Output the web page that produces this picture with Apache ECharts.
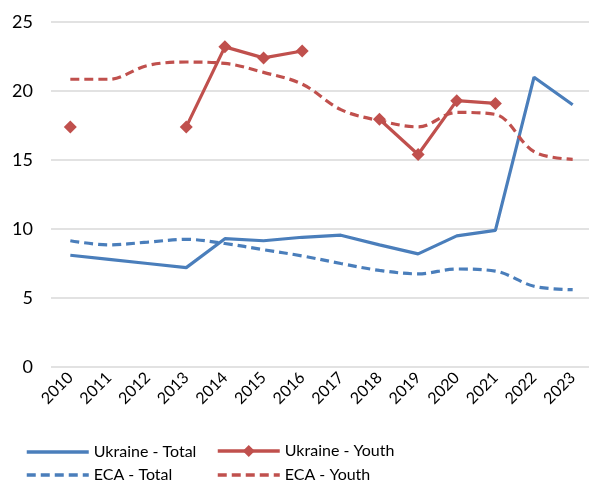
<!DOCTYPE html>
<html>
<head>
<meta charset="utf-8">
<script src="https://cdn.jsdelivr.net/npm/echarts@6/dist/echarts.min.js"></script>
<style>html,body{margin:0;padding:0;background:#fff;overflow:hidden}#c{width:592px;height:483px}</style>
</head>
<body>
<div id="c"></div>
<script>
const years = ['2010','2011','2012','2013','2014','2015','2016','2017','2018','2019','2020','2021','2022','2023'];
const ukraineTotal = [8.1, 7.8, 7.5, 7.2, 9.3, 9.15, 9.4, 9.55, 8.85, 8.2, 9.5, 9.9, 21.0, 19.0];
const ukraineYouth = [17.4, null, null, 17.4, 23.2, 22.4, 22.9, null, 17.95, 15.4, 19.3, 19.1, null, null];
const ecaTotal = [9.15, 8.85, 9.05, 9.25, 8.95, 8.5, 8.05, 7.5, 7.0, 6.75, 7.1, 6.95, 5.85, 5.6];
const ecaYouth = [20.85, 20.85, 21.85, 22.1, 22.0, 21.35, 20.5, 18.65, 17.85, 17.4, 18.45, 18.3, 15.6, 15.05];
const yTicks = [0, 5, 10, 15, 20, 25];

const BLUE = '#4a7ebb';
const RED = '#c0504d';
const FONT = 'Lato';

const chart = echarts.init(document.getElementById('c'), null, {renderer: 'canvas'});
function legendAt(name, left, top, hasSymbol) {
  return {
    data: [name], left: left, top: top, itemWidth: 62, itemHeight: hasSymbol ? 15 : 12, itemGap: 0,
    textStyle: {fontFamily: FONT, fontSize: 16, color: '#000', padding: [0, 0, 0, 0]},
    itemStyle: hasSymbol ? {} : {opacity: 0},
    lineStyle: {width: 3.5},
    padding: 0
  };
}
chart.setOption({
  animation: false,
  textStyle: {fontFamily: FONT},
  grid: {left: 51, right: 0, top: 22, bottom: 116, containLabel: false},
  legend: [
    legendAt('Ukraine - Total', 25, 444, false),
    legendAt('Ukraine - Youth', 216, 443, true),
    legendAt('ECA - Total', 25, 467, false),
    legendAt('ECA - Youth', 216, 467, false)
  ],
  xAxis: {
    type: 'category', data: years, boundaryGap: true,
    axisLine: {show: false}, axisTick: {show: false},
    axisLabel: {rotate: 45, fontFamily: FONT, fontSize: 16, color: '#000', margin: 8, interval: 0}
  },
  yAxis: {
    type: 'value', min: yTicks[0], max: yTicks[yTicks.length - 1], interval: 5,
    axisLine: {show: false}, axisTick: {show: false},
    axisLabel: {fontFamily: FONT, fontSize: 18, color: '#000', margin: 18},
    splitLine: {lineStyle: {color: '#d9d9d9', width: 1.5}}
  },
  series: [
    {name: 'Ukraine - Total', type: 'line', data: ukraineTotal, symbol: 'none',
     lineStyle: {color: BLUE, width: 3.2}, itemStyle: {color: BLUE}},
    {name: 'Ukraine - Youth', type: 'line', data: ukraineYouth, symbol: 'diamond', symbolSize: 13,
     showAllSymbol: true, connectNulls: false,
     lineStyle: {color: RED, width: 3.2}, itemStyle: {color: RED}},
    {name: 'ECA - Total', type: 'line', data: ecaTotal, symbol: 'none', smooth: 0.35,
     lineStyle: {color: BLUE, width: 3.2, type: [9, 5]}, itemStyle: {color: BLUE}},
    {name: 'ECA - Youth', type: 'line', data: ecaYouth, symbol: 'none', smooth: 0.35,
     lineStyle: {color: RED, width: 3.2, type: [9, 5]}, itemStyle: {color: RED}}
  ]
});
</script>
</body>
</html>
